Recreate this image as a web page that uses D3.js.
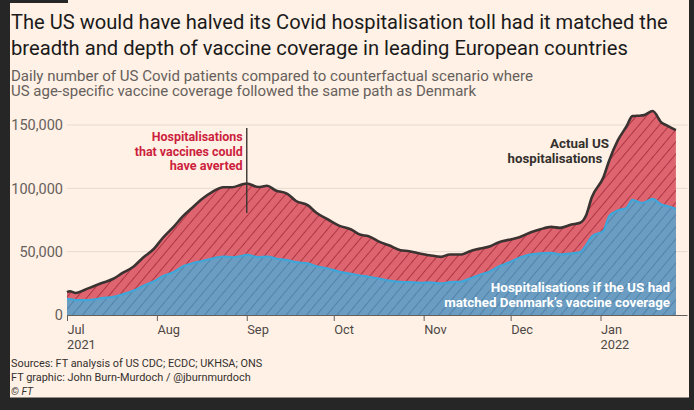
<!DOCTYPE html>
<html>
<head>
<meta charset="utf-8">
<script src="https://cdn.jsdelivr.net/npm/d3@7/dist/d3.min.js"></script>
<style>
  html, body { margin: 0; padding: 0; background: #262626; }
  svg { display: block; }
  text { font-family: Roboto, "Noto Sans", "DejaVu Sans", sans-serif; }
</style>
</head>
<body>
<svg id="chart" width="694" height="410"></svg>
<script>
// ---------------- DATA ----------------
const dates = [
  "2021-07-01","2021-07-02","2021-07-04","2021-07-07","2021-07-10","2021-07-13","2021-07-17","2021-07-20",
  "2021-07-24","2021-07-27","2021-07-31","2021-08-03","2021-08-07","2021-08-10","2021-08-13","2021-08-17",
  "2021-08-20","2021-08-24","2021-08-27","2021-08-30","2021-09-01","2021-09-05","2021-09-08","2021-09-11",
  "2021-09-15","2021-09-18","2021-09-22","2021-09-25","2021-09-29","2021-10-03","2021-10-07","2021-10-10",
  "2021-10-13","2021-10-17","2021-10-20","2021-10-24","2021-10-27","2021-10-31","2021-11-03","2021-11-07",
  "2021-11-10","2021-11-14","2021-11-17","2021-11-20","2021-11-24","2021-11-27","2021-12-01","2021-12-04",
  "2021-12-08","2021-12-11","2021-12-15","2021-12-18","2021-12-22","2021-12-25","2021-12-27","2021-12-29",
  "2022-01-02","2022-01-04","2022-01-07","2022-01-10","2022-01-12","2022-01-15","2022-01-16","2022-01-19",
  "2022-01-22","2022-01-24","2022-01-27"
];
// Actual US hospitalisations
const actual = [
  18000,18800,17400,19800,22500,25200,28600,33000,
  38300,44800,52300,60800,70200,78000,84300,92300,
  97000,100800,100800,102800,103800,101000,102000,98300,
  95700,90000,86700,80700,75400,70400,67500,63500,
  62200,57500,55100,51200,50400,48300,47200,45900,
  47800,47800,50400,52200,54300,57500,59600,61400,
  65400,67500,69600,68800,71400,72800,78500,93000,
  108700,122000,138000,149000,157000,157500,157800,161000,
  152000,149500,145900
];
// Counterfactual: US with Denmark's vaccine coverage
const denmark = [
  12800,12600,11800,11700,12200,13300,14400,16200,
  19300,22700,26700,30600,34100,38500,40700,42800,
  44600,46200,45600,46500,47500,45600,46200,44600,
  43300,41700,40700,38500,36700,34100,32500,31200,
  30200,28600,27200,26200,25900,25400,25700,24900,
  25900,26400,28800,31400,34600,38500,42000,45200,
  47800,48600,49100,47800,48600,49600,55000,62000,
  66500,78000,82500,84600,91000,88600,88800,91700,
  87200,86000,83800
];
const yTicks = [0, 50000, 100000, 150000];
const monthTicks = ["2021-07-01","2021-08-01","2021-09-01","2021-10-01","2021-11-01","2021-12-01","2022-01-01"];
const monthLabels = ["Jul","Aug","Sep","Oct","Nov","Dec","Jan"];
const yearLabels = [["2021-07-01","2021"],["2022-01-01","2022"]];

const titleLines = [
  "The US would have halved its Covid hospitalisation toll had it matched the",
  "breadth and depth of vaccine coverage in leading European countries"
];
const subtitleLines = [
  "Daily number of US Covid patients compared to counterfactual scenario where",
  "US age-specific vaccine coverage followed the same path as Denmark"
];
const sourceLines = [
  "Sources: FT analysis of US CDC; ECDC; UKHSA; ONS",
  "FT graphic: John Burn-Murdoch / @jburnmurdoch",
  "\u00A9 FT"
];

// ---------------- DRAW ----------------
const parse = d3.timeParse("%Y-%m-%d");
const rows = dates.map((d, i) => ({ date: parse(d), actual: actual[i], dk: denmark[i] }));

const svg = d3.select("#chart");

// fit a text to a target width: shrink font if too wide, stretch slightly if too narrow
function fit(sel, maxSize, targetFn) {
  sel.each(function(d, i) {
    const el = d3.select(this);
    el.attr("font-size", maxSize);
    const w = this.getComputedTextLength();
    const t = targetFn(d, i);
    if (w > t) el.attr("font-size", (maxSize * t / w).toFixed(2));
    else if (w < t) el.attr("textLength", t).attr("lengthAdjust", "spacingAndGlyphs");
  });
}

// frame + paper
svg.append("rect").attr("x", 0).attr("y", 0).attr("width", 694).attr("height", 410).attr("fill", "#262626");
svg.append("rect").attr("x", 10).attr("y", 0).attr("width", 679).attr("height", 397.5).attr("fill", "#fff1e5");
svg.append("rect").attr("x", 0).attr("y", 0).attr("width", 68).attr("height", 3).attr("fill", "#262626");

const x = d3.scaleTime().domain([parse("2021-07-01"), parse("2022-01-31")]).range([67, 687.5]);
const y = d3.scaleLinear().domain([0, 150000]).range([315, 125]);

// patterns
const defs = svg.append("defs");
function hatch(id, color) {
  const p = defs.append("pattern").attr("id", id).attr("patternUnits", "userSpaceOnUse")
    .attr("width", 7.8).attr("height", 7.8).attr("patternTransform", "rotate(40)");
  p.append("line").attr("x1", 0.5).attr("y1", -1).attr("x2", 0.5).attr("y2", 9)
    .attr("stroke", color).attr("stroke-width", 0.9);
}
hatch("hatchRed", "#a8323f");
hatch("hatchBlue", "#4f7fa6");

// gridlines
svg.append("g").selectAll("line").data(yTicks.filter(d => d > 0)).join("line")
  .attr("x1", 67).attr("x2", 687.5).attr("y1", d => y(d)).attr("y2", d => y(d))
  .attr("stroke", "#e6d9ce").attr("stroke-width", 1);

// y labels
svg.append("g").selectAll("text").data(yTicks).join("text")
  .attr("x", 63).attr("y", d => y(d)).attr("dy", "0.36em")
  .attr("text-anchor", "end").attr("font-size", 14.5).attr("fill", "#66605c")
  .text(d => d3.format(",")(d));

// areas
const areaActual = d3.area().x(d => x(d.date)).y0(y(0)).y1(d => y(d.actual)).curve(d3.curveMonotoneX);
const areaDk = d3.area().x(d => x(d.date)).y0(y(0)).y1(d => y(d.dk)).curve(d3.curveMonotoneX);
svg.append("path").datum(rows).attr("d", areaActual).attr("fill", "#de6470");
svg.append("path").datum(rows).attr("d", areaActual).attr("fill", "url(#hatchRed)");
svg.append("path").datum(rows).attr("d", areaDk).attr("fill", "#6b9dc2");
svg.append("path").datum(rows).attr("d", areaDk).attr("fill", "url(#hatchBlue)");

// lines
const lineDk = d3.line().x(d => x(d.date)).y(d => y(d.dk)).curve(d3.curveMonotoneX);
const lineActual = d3.line().x(d => x(d.date)).y(d => y(d.actual)).curve(d3.curveMonotoneX);
svg.append("path").datum(rows).attr("d", lineDk).attr("fill", "none")
  .attr("stroke", "#3fa6d9").attr("stroke-width", 2.2);
svg.append("path").datum(rows).attr("d", lineActual).attr("fill", "none")
  .attr("stroke", "#3b3331").attr("stroke-width", 2.6).attr("stroke-linejoin", "round");

// x axis
const xAxis = d3.axisBottom(x).tickValues(monthTicks.map(parse)).tickSize(6)
  .tickFormat((d, i) => monthLabels[i]);
const gx = svg.append("g").attr("transform", `translate(0,${y(0)})`).call(xAxis);
gx.select(".domain").attr("stroke", "#66605c").attr("d", `M67,0.5H687.5`);
gx.selectAll(".tick line").attr("stroke", "#66605c");
gx.selectAll(".tick text").attr("x", 0).attr("y", 19).attr("dy", null)
  .attr("text-anchor", "start").attr("fill", "#4e4845").attr("font-size", 12.8)
  .attr("font-family", "Roboto, 'Noto Sans', sans-serif");
svg.append("g").selectAll("text").data(yearLabels).join("text")
  .attr("x", d => x(parse(d[0]))).attr("y", y(0) + 34.4)
  .attr("text-anchor", "start").attr("fill", "#4e4845").attr("font-size", 12.8)
  .text(d => d[1]);

// annotation: averted
svg.append("line").attr("x1", x(parse("2021-09-01"))).attr("x2", x(parse("2021-09-01")))
  .attr("y1", 128).attr("y2", 213).attr("stroke", "#3b3331").attr("stroke-width", 1.4);
const redAnn = [["Hospitalisations", 140.7, 91], ["that vaccines could", 156, 108], ["have averted", 170.3, 73]];
svg.append("g").selectAll("text").data(redAnn).join("text")
  .attr("x", 242.7).attr("y", d => d[1]).attr("text-anchor", "end")
  .attr("font-weight", 700).attr("fill", "#cc1f3e")
  .text(d => d[0])
  .call(fit, 13, d => d[2]);

// annotation: actual
const darkAnn = [["Actual US", 609, 148.3, 59], ["hospitalisations", 602.3, 162.7, 94.7]];
svg.append("g").selectAll("text").data(darkAnn).join("text")
  .attr("x", d => d[1]).attr("y", d => d[2]).attr("text-anchor", "end")
  .attr("font-weight", 700).attr("fill", "#33302e")
  .text(d => d[0])
  .call(fit, 13, d => d[3]);

// annotation: counterfactual
const whiteAnn = [["Hospitalisations if the US had", 291.7, 179.3], ["matched Denmark\u2019s vaccine coverage", 306.7, 226]];
svg.append("g").selectAll("text").data(whiteAnn).join("text")
  .attr("x", 670).attr("y", d => d[1]).attr("text-anchor", "end")
  .attr("font-weight", 700).attr("fill", "#ffffff")
  .text(d => d[0])
  .call(fit, 13.5, d => d[2]);

// title
const titleLen = [657, 617];
svg.append("g").selectAll("text").data(titleLines).join("text")
  .attr("x", 11).attr("y", (d, i) => 29 + i * 26)
  .attr("fill", "#1a1a1a")
  .text(d => d)
  .call(fit, 22, (d, i) => titleLen[i]);

// subtitle
const subLen = [522, 465];
svg.append("g").selectAll("text").data(subtitleLines).join("text")
  .attr("x", 11).attr("y", (d, i) => 81 + i * 14.6)
  .attr("fill", "#66605c")
  .text(d => d)
  .call(fit, 14, (d, i) => subLen[i]);

// sources
const srcLen = [251, 240, 22];
svg.append("g").selectAll("text").data(sourceLines).join("text")
  .attr("x", 11).attr("y", (d, i) => 367.3 + i * 13.6)
  .attr("fill", "#33302e")
  .attr("font-style", (d, i) => i === 2 ? "italic" : "normal")
  .text(d => d)
  .call(fit, 11.5, (d, i) => srcLen[i]);
</script>
</body>
</html>
